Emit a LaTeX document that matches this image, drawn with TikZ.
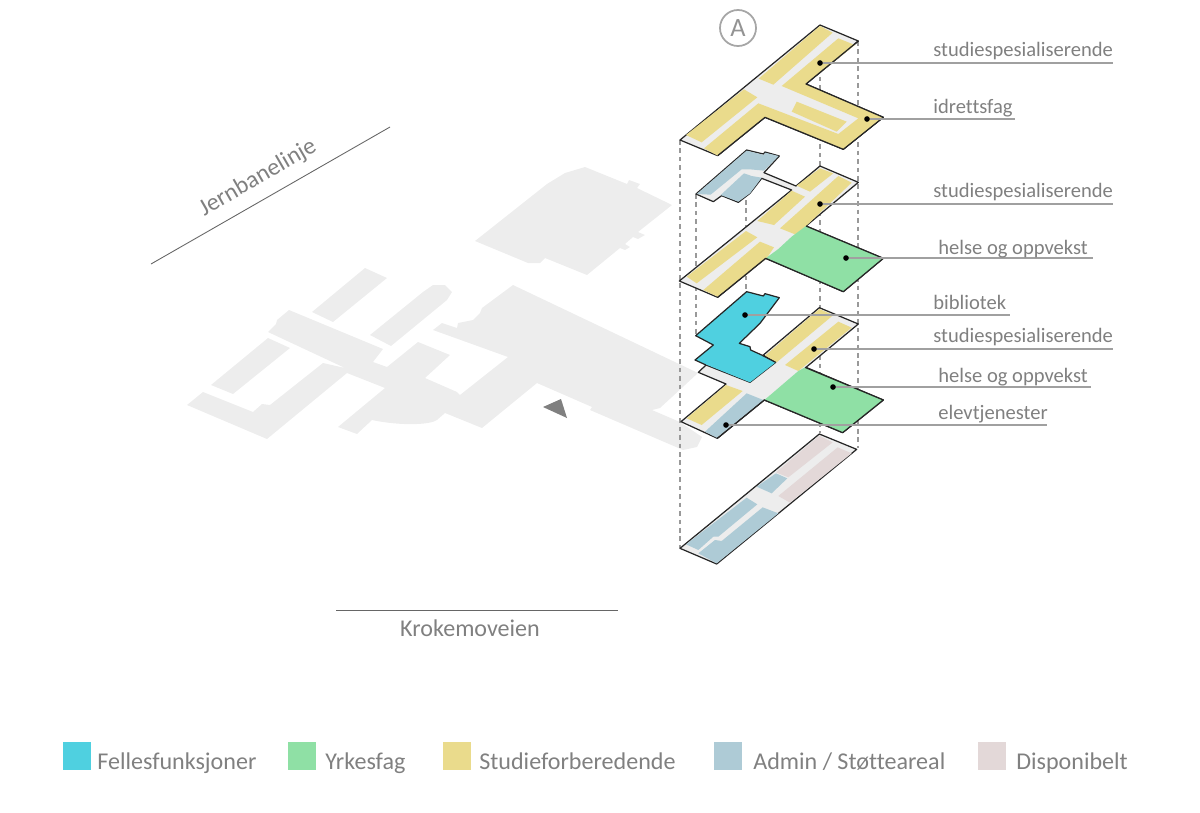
\documentclass[tikz,border=0pt]{standalone}
\usepackage{fontspec}
\setmainfont{Carlito}[Ligatures=NoCommon]
\definecolor{felles}{HTML}{4FD0E0}
\definecolor{yrke}{HTML}{8FE0A5}
\definecolor{studie}{HTML}{EADB8C}
\definecolor{admin}{HTML}{AECBD6}
\definecolor{dispo}{HTML}{E3D8D8}
\definecolor{base}{HTML}{EDEDED}
\definecolor{txt}{HTML}{808080}
\tikzset{
	zoomed/.style={x={.02cm/3},y={-.02cm/3}},
	floor/.style={draw=black!85,line width=.7pt,line join=round,fill=base},
	edge/.style={draw=black!85,line width=.7pt},
	ghost/.style={fill=base,draw=none},
	leader/.style={draw=txt!75,line width=.6pt},
	road/.style={draw=black!60,line width=.5pt},
	pil/.style={draw=txt!80,dash pattern=on 2.6pt off 2.2pt,line width=.7pt},
	dot/.style={circle,fill=black,inner sep=0pt,minimum size=3.2pt},
	label/.style={text=txt,anchor=base west,inner sep=0pt,font=\fontsize{11.7}{13}\selectfont},
	legend/.style={text=txt,anchor=base west,inner sep=0pt,font=\fontsize{13.7}{15}\selectfont}
}
\begin{document}
\begin{tikzpicture}[x=.02cm,y=-.02cm,line join=round]
	\useasboundingbox (0,0) rectangle (1200,812);
	% omgivelser
	\fill[ghost] (475,241)--(547,184)--(565,173)--(585,167)--(627,184)--(629,180)--(640,184)--(637,188)--(672,205)--(638,232)--(645,235)--(638,239)--(633,237)--(625,244)--(630,247)--(625,250)--(620,248)--(587,275)--(545,258)--(540,263)--(528,263)--cycle;
	\fill[ghost] (365,268)--(387,278)--(333,322)--(312,312)--cycle;
	\fill[ghost] (370,335)--(423,292)--(433,285)--(445,285)--(452,292)--(447,300)--(391,346)--cycle;
	\fill[ghost] (268,338)--(290,348)--(233,394)--(211,385)--cycle;
	\fill[ghost] (268,332)--(276,324)--(277,320)--(289,310)--(383,349)--(373,362)--(387,367)--(418,342)--(450,355)--(425,378)--(457,392)--(460,395)--(508,357)--(433,330)--(442,323)--(457,328)--(458,323)--(473,320)--(480,313)--(482,308)--(513,285)--(698,373)--(660,408)--(652,410)--(680,422)--(702,437)--(697,447)--(683,450)--(590,410)--(592,407)--(537,383)--(482,428)--(445,413)--(437,420) .. controls (430,425) and (400,426) .. (372,420)--(357,434)--(338,427)--(385,388)--(347,373)--(267,439)--(187,405)--(203,392)--(253,412)--(262,404)--(270,405)--(323,363)--(345,368)--cycle;
	\fill[txt] (543,407)--(561,399)--(567,418)--cycle;
	% veier
	\coordinate (jern1) at (151,264);
	\coordinate (jern2) at (390,127);
	\coordinate (krok1) at (336,610);
	\coordinate (krok2) at (618,610);
	\draw[road] (jern1)--(jern2);
	\draw[road] (krok1)--(krok2);
	\node[text=txt,rotate=30,font=\fontsize{13.7}{15}\selectfont] (jern) at (258,178) {Jernbanelinje};
	\node[text=txt,font=\fontsize{13.7}{15}\selectfont] (krok) at (470,628) {Krokemoveien};
	\node[circle,draw=txt!70,line width=1pt,minimum size=20.5pt,inner sep=0pt,text=txt!85,font=\fontsize{15}{17}\selectfont] (akse) at (738,28) {A};
	% stiplede linjer
	\foreach \x/\a/\b in {680/140/548,696/194/335,746/200/292,820/60/433,858/41/448}
		\draw[pil] (\x,\a)--(\x,\b);
	% plan 0
	\begin{scope}[shift={(670,425)},zoomed]
		\draw[floor] (448,27)--(560,73)--(140,417)--(30,370)--cycle;
		\fill[dispo] (448,32)--(488,52)--(355,157)--(318,142)--cycle;
		\fill[dispo] (503,67)--(545,85)--(360,233)--(325,213)--cycle;
		\fill[admin] (318,145)--(352,160)--(305,205)--(260,185)--cycle;
		\fill[admin] (230,218)--(262,238)--(145,335)--(130,335)--(85,375)--(48,358)--cycle;
		\fill[admin] (278,247)--(325,265)--(140,415)--(85,385)--(135,345)--(155,348)--cycle;
	\end{scope}
	% plan 1
	\begin{scope}[shift={(670,285)},zoomed]
		\draw[floor] (448,68)--(565,117)--(408,247)--(640,345)--(518,443)--(283,345)--(142,460)--(33,410)--(168,297)--(85,262)--(108,240)--(240,292)--(317,232)--(280,210)--cycle;
		\fill[studie] (448,72)--(490,90)--(320,232)--(285,212)--cycle;
		\fill[studie] (505,110)--(545,128)--(385,258)--(345,240)--cycle;
		\fill[studie] (168,300)--(218,318)--(95,420)--(50,400)--cycle;
		\fill[admin] (230,325)--(280,345)--(140,458)--(105,440)--cycle;
		\fill[yrke] (405,247)--(640,345)--(518,443)--(283,345)--(295,335)--(385,258)--cycle;
		\draw[edge] (405,247)--(640,345)--(518,443)--(283,345)--(142,460);
		\fill[felles] (230,20)--(280,33)--(285,26)--(328,38)--(270,115)--(208,175)--(240,185)--(242,195)--(275,210)--(317,232)--(240,292)--(75,225)--(130,180)--(77,152)--cycle;
		\draw[edge] (317,232)--(275,210)--(242,195)--(240,185)--(208,175)--(270,115)--(328,38)--(285,26)--(280,33)--(230,20)--(77,152)--(130,180)--(75,225)--(108,240);
	\end{scope}
	% plan 2
	\begin{scope}[shift={(670,140)},zoomed]
		\draw[floor] (450,78)--(565,127)--(408,258)--(640,355)--(520,455)--(287,355)--(143,472)--(28,423)--(365,150)--(275,115)--(240,160)--(205,187)--(155,167)--(130,185)--(78,162)--(230,30)--(280,42)--(285,36)--(328,48)--(282,98)--(378,138)--cycle;
		\fill[admin] (230,32)--(282,45)--(285,38)--(326,48)--(282,92)--(240,88)--(215,88)--(122,164)--(80,162)--cycle;
		\fill[admin] (222,100)--(245,108)--(275,113)--(240,160)--(205,185)--(152,165)--cycle;
		\fill[studie] (450,85)--(490,100)--(420,155)--(380,137)--cycle;
		\fill[studie] (365,152)--(405,170)--(312,255)--(262,243)--cycle;
		\fill[studie] (505,108)--(545,128)--(380,285)--(330,265)--cycle;
		\fill[studie] (228,273)--(262,292)--(80,430)--(50,410)--cycle;
		\fill[studie] (270,305)--(312,322)--(290,355)--(143,470)--(100,450)--cycle;
		\fill[yrke] (408,258)--(640,355)--(520,455)--(287,355)--(325,327)--(365,290)--cycle;
		\draw[edge] (408,258)--(640,355)--(520,455)--(287,355)--(143,472);
	\end{scope}
	% plan 3
	\begin{scope}[shift={(670,10)},zoomed]
		\draw[floor] (450,45)--(565,93)--(408,222)--(640,322)--(520,418)--(285,322)--(143,437)--(30,390)--cycle;
		\fill[studie] (450,48)--(488,68)--(310,224)--(266,206)--cycle;
		\fill[studie] (505,85)--(555,105)--(408,222)--(640,322)--(520,418)--(285,322)--(143,437)--(102,415)--(265,280)--(505,372)--(565,325)--(335,228)--cycle;
		\fill[studie] (222,238)--(262,262)--(95,397)--(48,375)--cycle;
		\fill[studie] (380,275)--(530,335)--(500,365)--(365,305)--cycle;
		\draw[edge] (565,93)--(408,222)--(640,322)--(520,418)--(285,322)--(143,437);
	\end{scope}
	% etiketter
	\foreach \n/\x/\y/\e/\t/\b/\g in {a/820/63/1113/933/56/studiespesialiserende,b/867/119/1015/933/113/idrettsfag,c/820/204/1113/933/197/studiespesialiserende,d/846/258/1093/938/254/helse og oppvekst,e/745/315/1010/933/309/bibliotek,f/814/349/1113/933/342/studiespesialiserende,g/833/387/1091/938/382/helse og oppvekst,h/726/425/1047/938/419/elevtjenester}{
		\node[dot] (\n) at (\x,\y) {};
		\coordinate (\n1) at (\e,\y);
		\draw[leader] (\n)--(\n1);
		\node[label] (\n2) at (\t,\b) {\g};
	}
	% tegnforklaring
	\foreach \n/\x/\t/\c/\g in {fe/63/97/felles/Fellesfunksjoner,yr/288/325/yrke/Yrkesfag,st/443/479/studie/Studieforberedende,ad/714/753/admin/{Admin / Støtteareal},di/978/1016/dispo/Disponibelt}{
		\fill[\c] (\x,742) rectangle ++(28,28);
		\node[legend] (\n) at (\t,769) {\g};
	}
\end{tikzpicture}
\end{document}
